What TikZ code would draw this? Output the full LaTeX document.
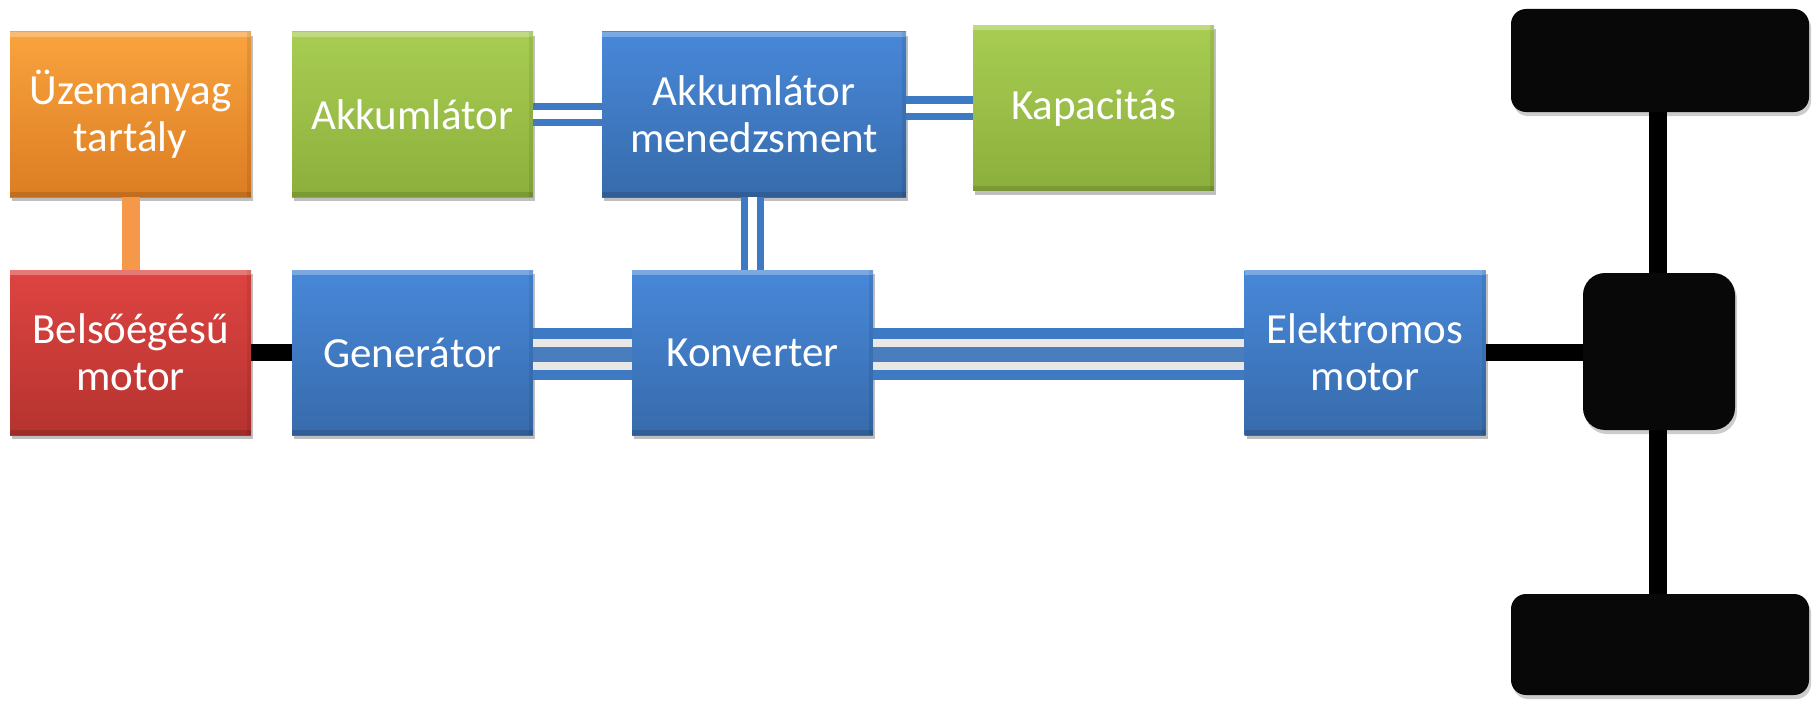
\documentclass[tikz,border=0pt]{standalone}
\usepackage{fontspec}
\setmainfont{Carlito}
\usetikzlibrary{shadows}

\definecolor{orTop}{HTML}{F9A33E}
\definecolor{orBot}{HTML}{DC7D22}
\definecolor{grTop}{HTML}{A8CD52}
\definecolor{grBot}{HTML}{8CAF3C}
\definecolor{blTop}{HTML}{4888D9}
\definecolor{blBot}{HTML}{376BAB}
\definecolor{rdTop}{HTML}{DE4441}
\definecolor{rdBot}{HTML}{B5332F}
\definecolor{busblue}{HTML}{3E79C4}
\definecolor{busmid}{HTML}{4A7DBD}
\definecolor{buslight}{HTML}{EAE8E6}
\definecolor{fuelline}{HTML}{F5984A}
\definecolor{partblack}{HTML}{080808}

\tikzset{
  unit/.style={rectangle, inner sep=0pt, minimum width=241pt, minimum height=165pt,
    align=center, text=white, font=\fontsize{43}{47}\selectfont,
    drop shadow={shadow xshift=2pt, shadow yshift=-4pt, opacity=0.25, fill=black},
    path picture={
      \fill[white, opacity=0.28] (path picture bounding box.north west)
        rectangle ([yshift=-5pt]path picture bounding box.north east);
      \fill[black, opacity=0.12] (path picture bounding box.south west)
        rectangle ([yshift=5pt]path picture bounding box.south east);
      \fill[black, opacity=0.08] (path picture bounding box.north east)
        rectangle ([xshift=-4pt]path picture bounding box.south east);
    }},
  orangeunit/.style={unit, top color=orTop, bottom color=orBot},
  greenunit/.style={unit, top color=grTop, bottom color=grBot},
  blueunit/.style={unit, top color=blTop, bottom color=blBot},
  redunit/.style={unit, top color=rdTop, bottom color=rdBot},
  part/.style={rectangle, inner sep=0pt, fill=partblack,
    drop shadow={shadow xshift=2pt, shadow yshift=-4pt, opacity=0.2, fill=black}},
  shaft/.style={line width=17pt, draw=black},
  link/.style={line width=7pt, draw=busblue, double=white, double distance=9pt},
  bus/.style={line width=52pt, draw=busblue,
    postaction={draw=buslight, line width=8pt, double=busmid, double distance=15pt}},
}

\begin{document}
\begin{tikzpicture}[x=1pt, y=-1pt]
\useasboundingbox[fill=white] (0,0) rectangle (1816,701);

% control units
\node[orangeunit] (fuel) at (130.5,114.5) {Üzemanyag\\tartály};
\node[greenunit] (acc) at (412.5,114.5) {Akkumlátor};
\node[blueunit, minimum width=304pt] (bms) at (754,114.5) {Akkumlátor\\menedzsment};
\node[greenunit] (cap) at (1093.5,108) {Kapacitás};
\node[redunit] (ice) at (130.5,352.5) {Belsőégésű\\motor};
\node[blueunit] (gen) at (412.5,352.5) {Generátor};
\node[blueunit] (conv) at (752.5,352.5) {Konverter};
\node[blueunit] (emot) at (1365,352.5) {Elektromos\\motor};

% drivetrain parts
\node[part, rounded corners=15pt, minimum width=298pt, minimum height=103pt] (wtop) at (1660,60.5) {};
\node[part, rounded corners=22pt, minimum width=152pt, minimum height=157pt] (diff) at (1659,351.5) {};
\node[part, rounded corners=15pt, minimum width=298pt, minimum height=101pt] (wbot) at (1660,644.5) {};

% connections
\draw[line width=18pt, draw=fuelline] (fuel.south) -- (ice.north);
\draw[shaft] (ice.east) -- (gen.west);
\draw[link] (acc.east) -- (bms.west |- acc.east);
\draw[link] (bms.east |- cap.west) -- (cap.west);
\draw[link] (conv.north |- bms.south) -- (conv.north);
\draw[bus] ([yshift=-1.5pt]gen.east) -- ([yshift=-1.5pt]conv.west);
\draw[bus] ([yshift=-1.5pt]conv.east) -- ([yshift=-1.5pt]emot.west);
\draw[shaft] (emot.east) -- (diff.west |- emot.east);
\draw[line width=18pt, draw=black] ([xshift=-2pt]wtop.south) -- ([xshift=-2pt]wtop.south |- diff.north);
\draw[line width=18pt, draw=black] ([xshift=-2pt]wbot.north |- diff.south) -- ([xshift=-2pt]wbot.north);
\end{tikzpicture}
\end{document}
